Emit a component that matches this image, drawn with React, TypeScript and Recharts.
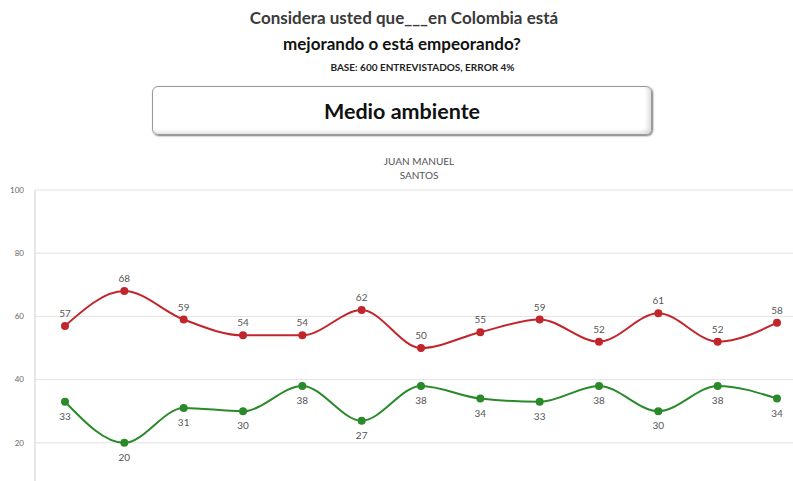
import { CartesianGrid, LabelList, Line, LineChart, XAxis, YAxis } from "recharts";

const periods = ["p1", "p2", "p3", "p4", "p5", "p6", "p7", "p8", "p9", "p10", "p11", "p12", "p13"];
const mejorando = [33, 20, 31, 30, 38, 27, 38, 34, 33, 38, 30, 38, 34];
const empeorando = [57, 68, 59, 54, 54, 62, 50, 55, 59, 52, 61, 52, 58];
const yTicks = [20, 40, 60, 80, 100];

const RED = "#c0262c";
const GREEN = "#2a8a2a";
const FONT = "Lato, 'Open Sans', sans-serif";

const data = periods.map((p, i) => ({ p, mejorando: mejorando[i], empeorando: empeorando[i] }));

export default function App() {
  return (
    <div
      style={{
        position: "fixed",
        left: 0,
        top: 0,
        width: 793,
        height: 481,
        overflow: "hidden",
        background: "#fff",
        fontFamily: FONT,
      }}
    >
      <div style={{ position: "absolute", left: 0, top: 0 }}>
        <LineChart width={793} height={506} data={data} margin={{ top: 190, right: 0, bottom: 0, left: 0 }}>
          <CartesianGrid vertical={false} stroke="#e2e2e2" />
          <XAxis dataKey="p" hide padding={{ left: 30, right: 16 }} />
          <YAxis
            width={35}
            domain={[0, 100]}
            ticks={yTicks}
            interval={0}
            tickLine={false}
            axisLine={{ stroke: "#cfcfcf" }}
            tick={{ fontSize: 8, fill: "#666", fontFamily: FONT }}
            tickMargin={5}
          />
          <Line
            type="monotone"
            dataKey="empeorando"
            stroke={RED}
            strokeWidth={2}
            dot={{ r: 3, fill: RED, stroke: RED }}
            isAnimationActive={false}
          >
            <LabelList dataKey="empeorando" position="top" offset={9} fontSize={10} fill="#555" fontFamily={FONT} />
          </Line>
          <Line
            type="monotone"
            dataKey="mejorando"
            stroke={GREEN}
            strokeWidth={2}
            dot={{ r: 3, fill: GREEN, stroke: GREEN }}
            isAnimationActive={false}
          >
            <LabelList dataKey="mejorando" position="bottom" offset={11} fontSize={10} fill="#555" fontFamily={FONT} />
          </Line>
        </LineChart>
      </div>

      <div style={{ position: "absolute", left: 0, width: 808, top: 7, textAlign: "center", fontSize: 17, fontWeight: 700, color: "#3a3a3a" }}>
        Considera usted que___en Colombia está
      </div>
      <div style={{ position: "absolute", left: 0, width: 804, top: 33, textAlign: "center", fontSize: 17, fontWeight: 700, color: "#111" }}>
        mejorando o está empeorando?
      </div>
      <div style={{ position: "absolute", left: 0, width: 845, top: 61, textAlign: "center", fontSize: 10, fontWeight: 700, color: "#222" }}>
        BASE: 600 ENTREVISTADOS, ERROR 4%
      </div>
      <div
        style={{
          position: "absolute",
          left: 152,
          top: 86,
          width: 498,
          height: 47,
          border: "1px solid #999",
          borderRadius: 6,
          boxShadow: "1px 1px 2px #777, inset -3px -2px 4px #ddd",
          display: "flex",
          alignItems: "center",
          justifyContent: "center",
          fontSize: 21.5,
          fontWeight: 700,
          color: "#111",
        }}
      >
        Medio ambiente
      </div>
      <div style={{ position: "absolute", left: 0, width: 838, top: 154, textAlign: "center", fontSize: 10, lineHeight: "14px", color: "#555" }}>
        JUAN MANUEL
        <br />
        SANTOS
      </div>
    </div>
  );
}
